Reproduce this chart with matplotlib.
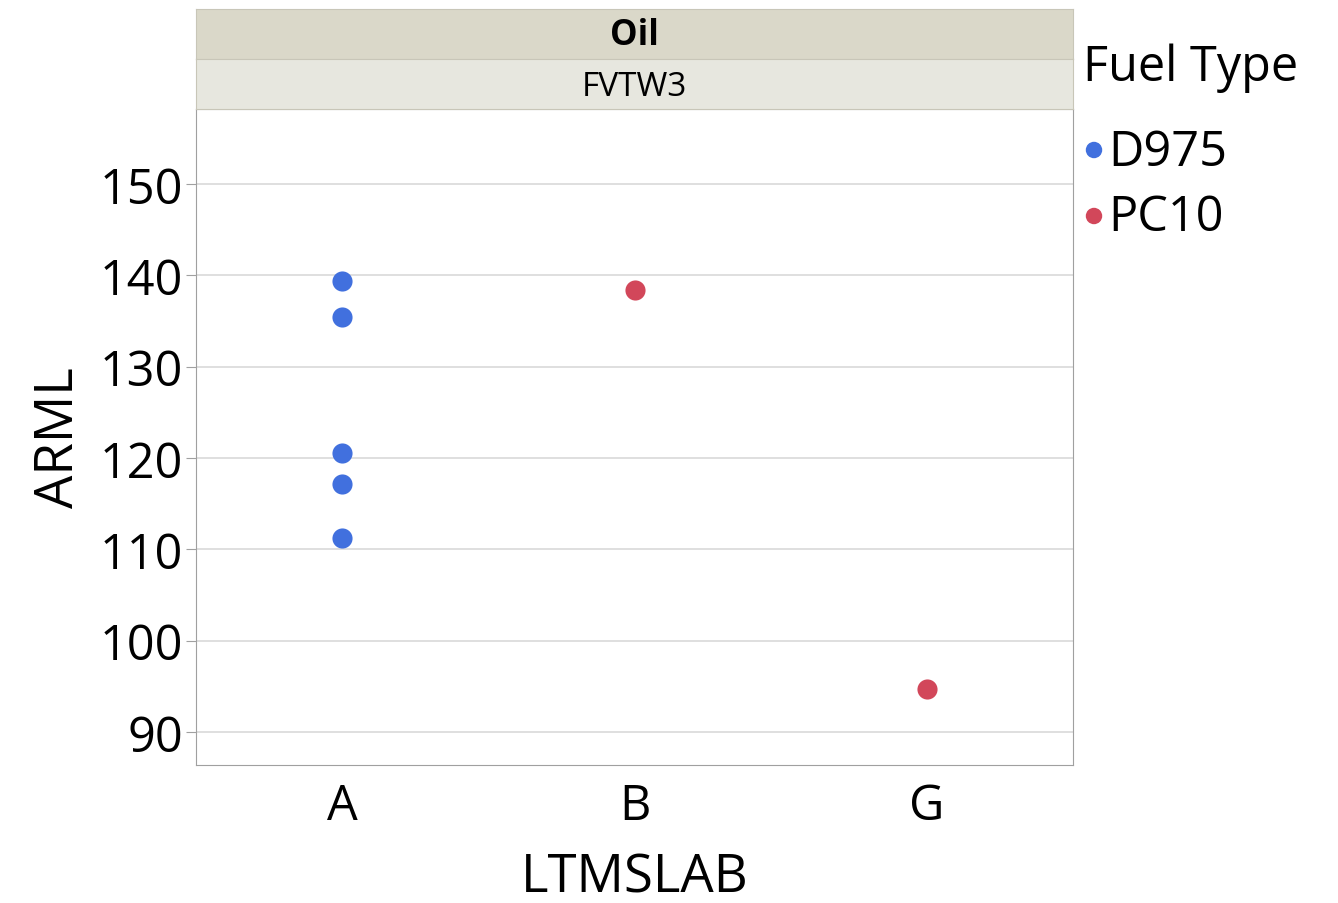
import matplotlib
matplotlib.use("Agg")
import matplotlib.pyplot as plt

plt.rcParams['font.family'] = ['Open Sans', 'DejaVu Sans']

# data
labs = ['A', 'B', 'G']
d975_lab = ['A', 'A', 'A', 'A', 'A']
d975_arml = [139.4, 135.4, 120.6, 117.2, 111.3]
pc10_lab = ['B', 'G']
pc10_arml = [138.4, 94.7]

blue = '#4170DE'
red = '#D2475A'

W, H = 1338, 904
fig = plt.figure(figsize=(W / 100, H / 100), dpi=100)

def box(x0, y0, x1, y1):
    # pixel coords (top-left origin) -> figure fraction
    return [x0 / W, 1 - y1 / H, (x1 - x0) / W, (y1 - y0) / H]

ax = fig.add_axes(box(196, 110, 1073, 766))
pos = {k: i for i, k in enumerate(labs)}
ax.scatter([pos[k] for k in d975_lab], d975_arml, s=210, color=blue, zorder=3, linewidths=0)
ax.scatter([pos[k] for k in pc10_lab], pc10_arml, s=210, color=red, zorder=3, linewidths=0)

ax.set_xlim(-0.5, 2.5)
ax.set_ylim(86.4, 158.2)
ax.set_xticks(range(len(labs)))
ax.set_xticklabels(labs)
ax.set_yticks([90, 100, 110, 120, 130, 140, 150])
ax.grid(axis='y', color='#d9d9d9', linewidth=1.2)
ax.set_axisbelow(True)
ax.tick_params(axis='both', labelsize=35, length=7, color='#a0a0a0', pad=2)
ax.tick_params(axis='x', length=0, pad=12)
for s in ax.spines.values():
    s.set_color('#a0a0a0')
ax.set_xlabel('LTMSLAB', fontsize=38, labelpad=14)
ax.set_ylabel('ARML', fontsize=38, labelpad=10)

# header strips
s1 = fig.add_axes(box(196, 10, 1073, 60))
s1.set_facecolor('#DAD8C9')
s1.set_xticks([]); s1.set_yticks([])
for s in s1.spines.values():
    s.set_color('#c8c6b8')
s1.text(0.5, 0.48, 'Oil', ha='center', va='center', fontsize=25, fontweight='bold', transform=s1.transAxes)

s2 = fig.add_axes(box(196, 60, 1073, 110))
s2.set_facecolor('#E7E7DF')
s2.set_xticks([]); s2.set_yticks([])
for s in s2.spines.values():
    s.set_color('#c8c6b8')
s2.text(0.5, 0.45, 'FVTW3', ha='center', va='center', fontsize=24, transform=s2.transAxes)

# legend
fig.text(1083 / W, 1 - 68 / H, 'Fuel Type', fontsize=35, va='center', ha='left')
fig.text(1108 / W, 1 - 153 / H, 'D975', fontsize=35, va='center', ha='left')
fig.text(1108 / W, 1 - 218 / H, 'PC10', fontsize=35, va='center', ha='left')
lg = fig.add_axes([0, 0, 1, 1], facecolor='none')
lg.set_axis_off()
lg.set_xlim(0, W); lg.set_ylim(H, 0)
lg.scatter([1094, 1094], [151, 217], s=140, color=[blue, red], linewidths=0)

fig.savefig('out.png', dpi=100)
